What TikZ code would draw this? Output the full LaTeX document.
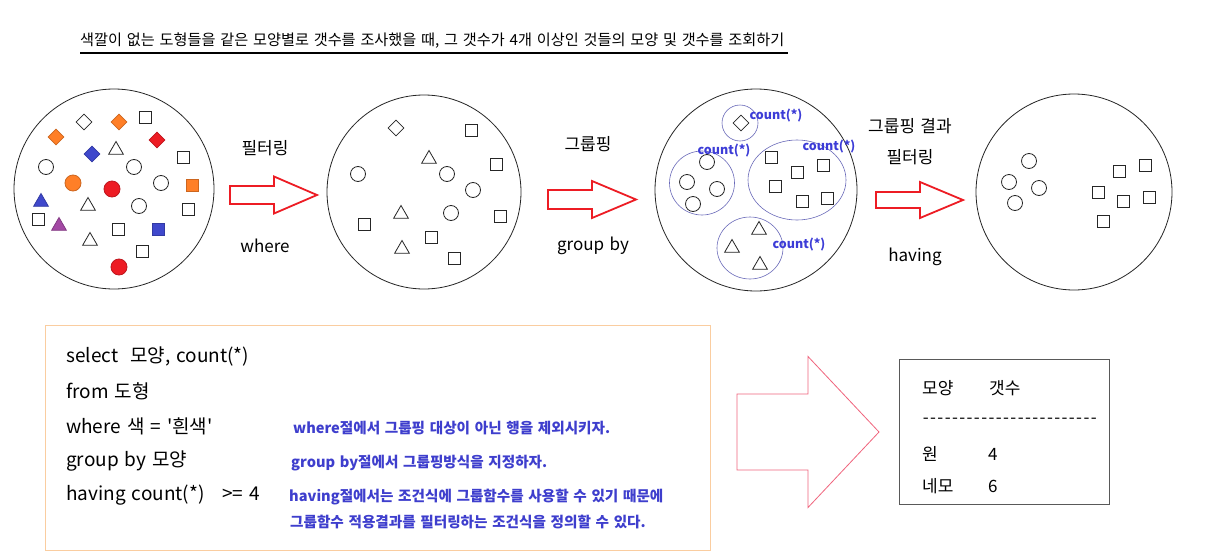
\documentclass[tikz,border=0pt]{standalone}
\usepackage{fontspec}
\setmainfont{Noto Sans CJK KR}[Ligatures=TeXOff, WordSpace=1.4]
\usepackage{xcolor}
\usetikzlibrary{shapes.geometric, positioning}
\definecolor{pnorange}{RGB}{255,127,39}
\definecolor{pnred}{RGB}{237,28,36}
\definecolor{pnblue}{RGB}{63,72,204}
\definecolor{pnpurple}{RGB}{163,73,164}
\definecolor{grpline}{RGB}{105,105,185}
\definecolor{cntblue}{RGB}{60,60,215}
\definecolor{noteblue}{RGB}{62,62,205}
\definecolor{boxorange}{RGB}{250,205,160}
\definecolor{bigred}{RGB}{240,100,125}
\tikzset{
    pool/.style ={draw=black!85, line width=0.8pt, circle, inner sep=0pt},
    rnd/.style  ={draw=black!85, line width=0.8pt, circle, minimum size=15pt, inner sep=0pt},
    sqr/.style  ={draw=black!85, line width=0.8pt, rectangle, minimum size=12pt, inner sep=0pt},
    dia/.style  ={draw=black!85, line width=0.8pt, diamond, minimum size=16pt, inner sep=0pt},
    tri/.style  ={draw=black!85, line width=0.8pt, regular polygon, regular polygon sides=3,
                  minimum size=17pt, inner sep=0pt},
    grp/.style  ={draw=grpline, line width=0.6pt, ellipse, inner sep=0pt},
    cnt/.style  ={text=cntblue, font=\fontsize{12.5}{14}\selectfont\bfseries, inner sep=0pt},
    lbl/.style  ={font=\fontsize{17}{20}\selectfont, inner sep=0pt},
    code/.style ={font=\fontsize{19}{22}\selectfont, anchor=west, inner sep=0pt},
    note/.style ={text=noteblue, font=\fontsize{14.6}{17}\selectfont\bfseries, anchor=west, inner sep=0pt},
    res/.style  ={font=\fontsize{17}{20}\selectfont, anchor=west, inner sep=0pt},
    blockarr/.style={draw=pnred, line width=1.8pt},
    bigarr/.style={draw=bigred, line width=0.8pt}
}
% style, left x, mid y, shaft length, total length, shaft half height, head half height
\newcommand{\blockarrow}[7]{%
  \draw[#1] (#2,#3-#6) -- (#2+#4,#3-#6) -- (#2+#4,#3-#7) -- (#2+#5,#3)
    -- (#2+#4,#3+#7) -- (#2+#4,#3+#6) -- (#2,#3+#6) -- cycle;}

\begin{document}
\begin{tikzpicture}[x=1pt, y=-1pt]
  \useasboundingbox (0,0) rectangle (1205,557);
  \fill[white] (0,0) rectangle (1205,557);

  % title
  \node[anchor=west, font=\fontsize{15.2}{17}\selectfont, inner sep=0pt] (title) at (80,41)
    {색깔이 없는 도형들을 같은 모양별로 갯수를 조사했을 때, 그 갯수가 4개 이상인 것들의 모양 및 갯수를 조회하기};
  \coordinate (ulL) at (80,53);
  \coordinate (ulR) at (788,53);
  \draw[line width=2pt] (ulL) -- (ulR);

  % the four pools
  \node[pool, minimum size=200pt] (pool1) at (114,189) {};
  \node[pool, minimum size=194pt] (pool2) at (424,192) {};
  \node[pool, minimum size=202pt] (pool3) at (756,190) {};
  \node[pool, minimum size=196pt] (pool4) at (1074,192) {};

  % pool 1: all shapes
  \foreach \x/\y [count=\i] in {46/167,134/167,161/183,139/206}
    \node[rnd] (a-rnd\i) at (\x,\y) {};
  \foreach \x/\y [count=\i] in {145/117,183/157,188/209,38/219,118/229,142/251}
    \node[sqr] (a-sqr\i) at (\x,\y) {};
  \foreach \x/\y [count=\i] in {116/150,88/206,90/241}
    \node[tri] (a-tri\i) at (\x,\y) {};
  \node[dia] (a-dia1) at (84,122) {};
  \node[dia, fill=pnorange, draw=pnorange!80!black] (a-dia2) at (119,122) {};
  \node[dia, fill=pnorange, draw=pnorange!80!black] (a-dia3) at (56,137) {};
  \node[dia, fill=pnred, draw=pnred!80!black]       (a-dia4) at (157,140) {};
  \node[dia, fill=pnblue, draw=pnblue!80!black]     (a-dia5) at (92,154) {};
  \node[rnd, minimum size=16pt, fill=pnorange, draw=pnorange!80!black] (a-rnd5) at (73,183) {};
  \node[rnd, minimum size=16pt, fill=pnred, draw=pnred!80!black]       (a-rnd6) at (112,189) {};
  \node[rnd, minimum size=16pt, fill=pnred, draw=pnred!80!black]       (a-rnd7) at (119,267) {};
  \node[sqr, fill=pnorange, draw=pnorange!80!black] (a-sqr7) at (192,185) {};
  \node[sqr, fill=pnblue, draw=pnblue!80!black]     (a-sqr8) at (158,229) {};
  \node[tri, fill=pnblue, draw=pnblue!80!black]     (a-tri4) at (41,202) {};
  \node[tri, fill=pnpurple, draw=pnpurple!80!black] (a-tri5) at (59,226) {};

  % pool 2: white shapes only
  \foreach \x/\y [count=\i] in {358/174,447/174,473/190,451/213}
    \node[rnd] (b-rnd\i) at (\x,\y) {};
  \foreach \x/\y [count=\i] in {471/130,496/164,500/216,364/224,431/237,454/258}
    \node[sqr] (b-sqr\i) at (\x,\y) {};
  \foreach \x/\y [count=\i] in {429/159,401/214,402/249}
    \node[tri] (b-tri\i) at (\x,\y) {};
  \node[dia] (b-dia1) at (396,128) {};

  % pool 3: grouped
  \node[grp, minimum width=36pt, minimum height=36pt] (g-dia) at (740,123) {};
  \node[grp, minimum width=65pt, minimum height=64pt] (g-rnd) at (702,183) {};
  \node[grp, minimum width=98pt, minimum height=80pt] (g-sqr) at (797,180) {};
  \node[grp, minimum width=66pt, minimum height=62pt] (g-tri) at (750,248) {};
  \node[dia] (c-dia1) at (741,123) {};
  \foreach \x/\y [count=\i] in {707/162,687/182,717/189,693/204}
    \node[rnd] (c-rnd\i) at (\x,\y) {};
  \foreach \x/\y [count=\i] in {771/157,797/172,823/165,775/186,802/201,827/198}
    \node[sqr] (c-sqr\i) at (\x,\y) {};
  \foreach \x/\y [count=\i] in {759/230,732/248,760/265}
    \node[tri] (c-tri\i) at (\x,\y) {};
  \node[cnt] (cnt-dia) at (776,116) {count(*)};
  \node[cnt] (cnt-rnd) at (724,151) {count(*)};
  \node[cnt] (cnt-sqr) at (829,147) {count(*)};
  \node[cnt] (cnt-tri) at (799,245) {count(*)};

  % pool 4: groups with 4 or more
  \foreach \x/\y [count=\i] in {1029/161,1009/182,1039/188,1015/203}
    \node[rnd] (d-rnd\i) at (\x,\y) {};
  \foreach \x/\y [count=\i] in {1119/171,1145/165,1098/192,1123/201,1149/197,1103/221}
    \node[sqr] (d-sqr\i) at (\x,\y) {};

  % step arrows
  \blockarrow{blockarr}{230}{195}{44}{87}{9}{18.5}
  \blockarrow{blockarr}{548}{199.5}{44}{88}{9.5}{18.5}
  \blockarrow{blockarr}{876}{200}{44}{87}{8}{18}
  \node[lbl] (lbl-filter) at (265,148) {필터링};
  \node[lbl] (lbl-where)  at (265,246) {where};
  \node[lbl] (lbl-group)  at (588,144) {그룹핑};
  \node[lbl] (lbl-gby)    at (593,246) {group by};
  \node[lbl] (lbl-res1)   at (910,126) {그룹핑 결과};
  \node[lbl] (lbl-res2)   at (910,157) {필터링};
  \node[lbl] (lbl-having) at (915,257) {having};

  % query box
  \node[draw=boxorange, line width=0.9pt, minimum width=665pt, minimum height=225pt]
    (codebox) at (377.5,437.5) {};
  \node[code] (q-select) at (66,357) {select\ \ 모양, count(*)};
  \node[code] (q-from)   at (66,391) {from 도형};
  \node[code] (q-where)  at (66,426) {where 색 = '흰색'};
  \node[code] (q-group)  at (66,461) {group by 모양};
  \node[code] (q-having) at (66,495) {having count(*)\ \ \ >= 4};
  \node[note] (n-where)  at (293,428) {where절에서 그룹핑 대상이 아닌 행을 제외시키자.};
  \node[note] (n-group)  at (291,463) {group by절에서 그룹핑방식을 지정하자.};
  \node[note] (n-hav1)   at (289,497) {having절에서는 조건식에 그룹함수를 사용할 수 있기 때문에};
  \node[note] (n-hav2)   at (290,522) {그룹함수 적용결과를 필터링하는 조건식을 정의할 수 있다.};

  % result
  \blockarrow{bigarr}{737}{432}{71}{142}{38}{75.5}
  \node[draw=black!65, line width=0.9pt, minimum width=210pt, minimum height=145pt]
    (resbox) at (1004,431.5) {};
  \node[res] (r-shape) at (922,388) {모양};
  \node[res] (r-count) at (989,388) {갯수};
  \node[res] (r-rule)  at (922,421) {\foreach \k in {1,...,24}{\makebox[7.3pt]{-}}};
  \node[res] (r-rnd)   at (922,454) {원};
  \node[res] (r-rndn)  at (988,454) {4};
  \node[res] (r-sqr)   at (922,486) {네모};
  \node[res] (r-sqrn)  at (988,486) {6};
\end{tikzpicture}
\end{document}
